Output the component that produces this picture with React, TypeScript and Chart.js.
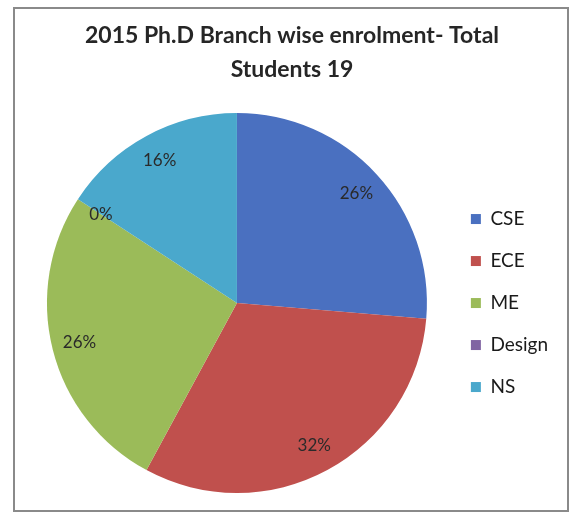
import React, { useEffect, useRef } from "react";
import { Chart, registerables } from "chart.js";

Chart.register(...registerables);

const titleLines = ["2015 Ph.D Branch wise enrolment- Total", "Students 19"];
const categories = ["CSE", "ECE", "ME", "Design", "NS"];
const students = [5, 6, 5, 0, 3];
const percentLabels = ["26%", "32%", "26%", "0%", "16%"];
const sliceColors = ["#4a70c0", "#c0504d", "#9bbb59", "#8064a2", "#4aa8cc"];

const FONT = "Lato, 'Open Sans', sans-serif";

const pctPlugin = {
  id: "pctLabels",
  afterDatasetsDraw(chart: any) {
    const ctx = chart.ctx;
    const meta = chart.getDatasetMeta(0);
    ctx.save();
    ctx.font = `17px ${FONT}`;
    ctx.fillStyle = "#2a2a2a";
    ctx.textAlign = "center";
    ctx.textBaseline = "middle";
    meta.data.forEach((arc: any, i: number) => {
      const { x, y, startAngle, endAngle, outerRadius } = arc.getProps(
        ["x", "y", "startAngle", "endAngle", "outerRadius"],
        true
      );
      const mid = (startAngle + endAngle) / 2;
      const d = outerRadius * 0.855;
      ctx.fillText(percentLabels[i], x + Math.cos(mid) * d, y + Math.sin(mid) * d);
    });
    ctx.restore();
  },
};

export default function App() {
  const ref = useRef<HTMLCanvasElement>(null);
  useEffect(() => {
    if (!ref.current) return;
    const chart = new Chart(ref.current, {
      type: "pie",
      data: {
        labels: categories,
        datasets: [
          {
            data: students,
            backgroundColor: sliceColors,
            borderWidth: 0,
          },
        ],
      },
      options: {
        responsive: false,
        animation: false,
        layout: { padding: { left: 26, right: 19, top: 0, bottom: 24 } },
        plugins: {
          title: {
            display: true,
            text: titleLines,
            color: "#262626",
            font: { family: FONT, size: 23, weight: "bold", lineHeight: 1.48 },
            padding: { top: 19, bottom: 26 },
          },
          legend: {
            position: "right",
            fullSize: false,
            labels: {
              boxWidth: 10,
              boxHeight: 10,
              padding: 23,
              color: "#1a1a1a",
              font: { family: FONT, size: 19 },
            },
          },
          tooltip: { enabled: false },
        },
      },
      plugins: [pctPlugin],
    });
    return () => chart.destroy();
  }, []);
  return (
    <div style={{ position: "absolute", left: 0, top: 0, width: 577, height: 517, background: "#fff" }}>
      <div
        style={{
          position: "absolute",
          left: 13,
          top: 7,
          width: 552,
          height: 501,
          border: "2px solid #8a8a8a",
        }}
      />
      <canvas ref={ref} width={577} height={517} style={{ position: "absolute", left: 0, top: 0 }} />
    </div>
  );
}
